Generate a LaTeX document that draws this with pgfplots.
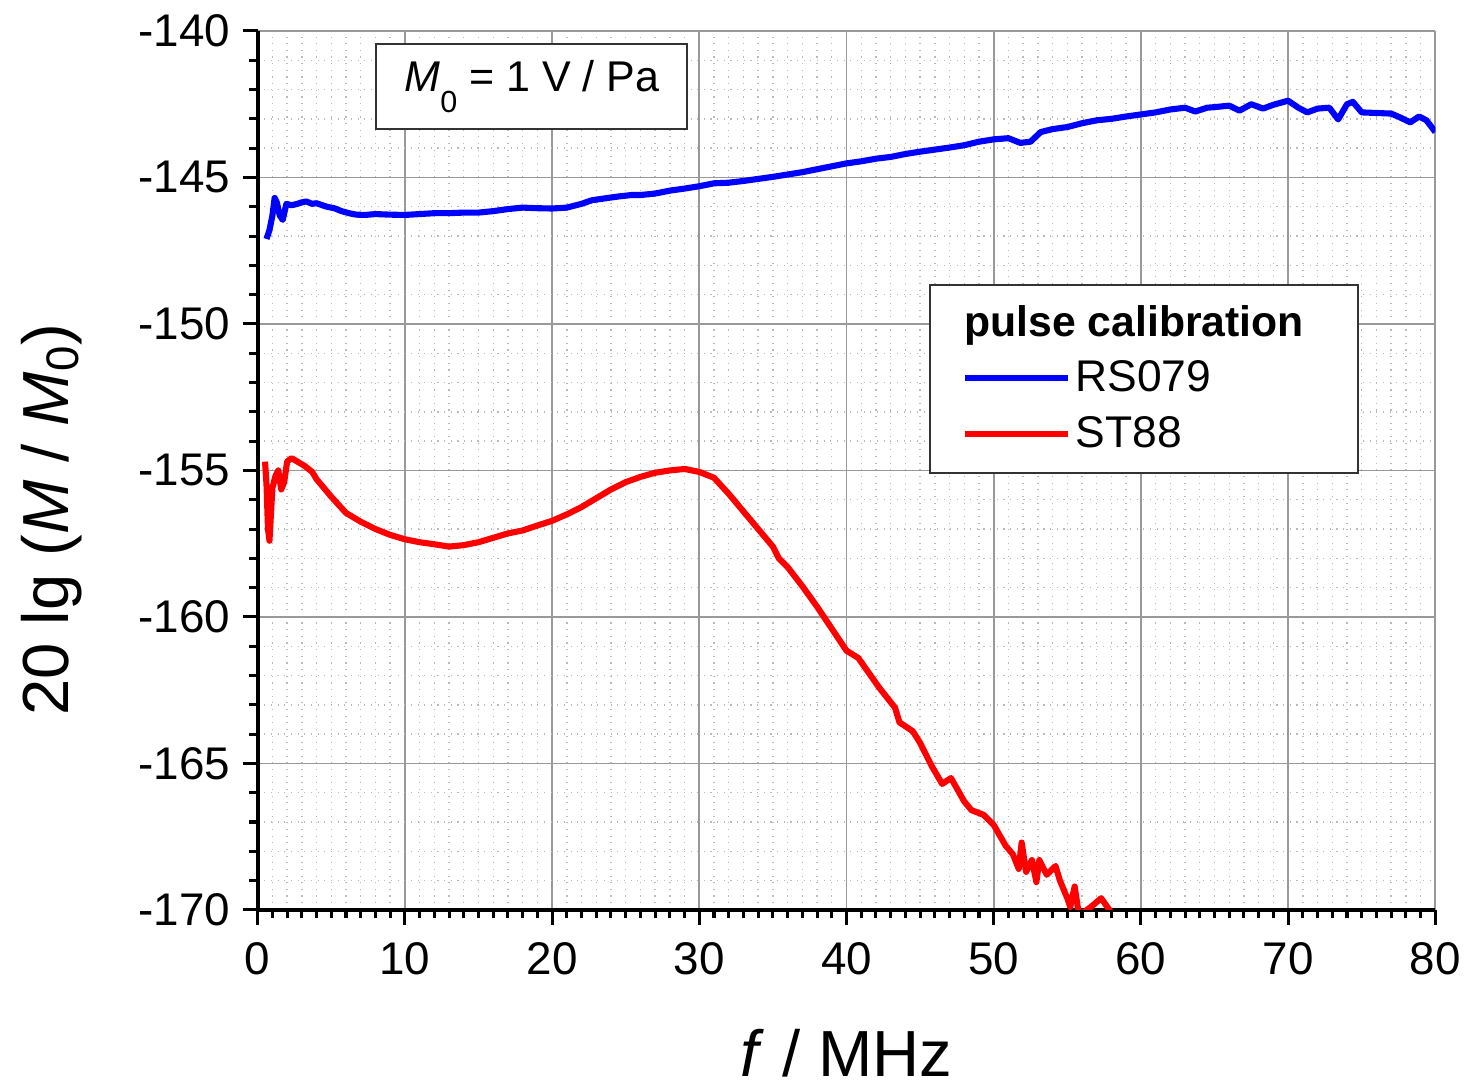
\documentclass[border=0pt]{standalone}
\usepackage{fontspec}
\setmainfont{Liberation Sans}
\usepackage{pgfplots}
\pgfplotsset{compat=1.18}
\usepackage{pgfplotstable}

\pgfplotstableread{
x y
0.6 -147.1
0.8 -146.8
1.0 -146.3
1.15 -145.7
1.3 -145.85
1.5 -146.3
1.7 -146.45
1.95 -145.9
2.3 -145.95
2.7 -145.9
3.0 -145.85
3.3 -145.82
3.7 -145.9
4.0 -145.88
4.4 -145.95
4.7 -146.0
5.2 -146.05
5.7 -146.15
6.2 -146.22
6.7 -146.27
7.3 -146.28
8.0 -146.25
9.0 -146.27
10.0 -146.28
11 -146.25
12 -146.22
13 -146.22
14 -146.2
15 -146.2
16 -146.15
17 -146.08
18 -146.03
19 -146.05
20 -146.06
21 -146.03
22 -145.9
22.7 -145.78
23.5 -145.72
24.5 -145.65
25.4 -145.6
26 -145.6
27 -145.55
28 -145.45
29 -145.38
30 -145.3
31 -145.2
32 -145.18
33 -145.12
34 -145.05
35 -144.98
36 -144.9
37 -144.82
38 -144.72
39 -144.62
40 -144.52
41 -144.45
42 -144.36
43 -144.3
44 -144.2
45 -144.12
46 -144.05
47 -143.98
48 -143.9
49 -143.78
50 -143.7
51 -143.66
51.8 -143.82
52.5 -143.78
53.2 -143.45
54 -143.35
55 -143.28
56 -143.15
57 -143.05
58 -143.0
59 -142.92
60 -142.85
61 -142.78
62 -142.68
63 -142.62
63.7 -142.75
64.5 -142.62
65 -142.6
66 -142.55
66.7 -142.72
67.5 -142.5
68.3 -142.65
69 -142.52
70 -142.38
70.7 -142.62
71.3 -142.78
72 -142.65
72.8 -142.62
73.4 -143.02
74 -142.5
74.4 -142.42
75 -142.78
76 -142.8
77 -142.82
77.6 -142.95
78.3 -143.12
78.9 -142.92
79.4 -143.05
80 -143.45
}\bluedata

\pgfplotstableread{
x y
0.5 -154.7
0.6 -155.5
0.7 -157.0
0.8 -157.4
0.9 -156.5
1.0 -155.6
1.2 -155.2
1.4 -155.0
1.6 -155.65
1.8 -155.4
2.0 -154.7
2.3 -154.58
2.7 -154.7
3.2 -154.85
3.7 -155.05
4.0 -155.3
5.0 -155.9
6.0 -156.45
7.0 -156.75
8.0 -157.0
9.0 -157.2
10.0 -157.35
11 -157.45
12 -157.52
13 -157.6
14 -157.55
15 -157.45
16 -157.3
17 -157.15
18 -157.05
19 -156.88
20 -156.72
21 -156.5
22 -156.25
23 -155.95
24 -155.65
25 -155.4
26 -155.22
27 -155.08
28 -155.0
29 -154.95
30 -155.05
31 -155.25
32 -155.8
33 -156.4
34 -157.0
35 -157.6
35.4 -158.0
36 -158.3
37 -158.95
38 -159.65
39 -160.4
40 -161.15
40.8 -161.4
41.5 -161.9
42.2 -162.4
43.3 -163.1
43.6 -163.6
44.5 -163.9
45 -164.3
45.8 -165.1
46.5 -165.7
47.1 -165.5
48 -166.3
48.5 -166.6
49.3 -166.75
50 -167.1
50.8 -167.8
51.3 -168.1
51.7 -168.6
51.9 -167.7
52.2 -168.7
52.6 -168.3
52.9 -169.05
53.1 -168.3
53.6 -168.8
54.2 -168.5
54.5 -169.0
55.0 -169.6
55.2 -169.9
55.5 -169.2
55.8 -170.2
56.6 -169.9
57.3 -169.6
58.0 -170.1
}\reddata

\begin{document}
\begin{tikzpicture}
\begin{axis}[
  scale only axis,
  width=424.44pt, height=316.8pt,
  xmin=0, xmax=80, ymin=-170, ymax=-140,
  xtick={0,10,...,80}, ytick={-170,-165,...,-140},
  minor x tick num=9, minor y tick num=4,
  axis x line*=bottom, axis y line*=left,
  axis line style={-, line width=1.4pt, black},
  tick align=outside,
  major tick length=5.4pt, minor tick length=3pt,
  every tick/.style={black, line width=1.1pt},
  grid=both,
  major grid style={solid, gray!80, line width=0.6pt},
  minor grid style={dotted, gray!55, line width=0.5pt},
  /pgf/number format/assume math mode=true,
  ticklabel style={font=\fontsize{16.5}{19}\selectfont},
  xticklabel style={yshift=-3pt},
  yticklabel style={xshift=-1pt},
  xlabel={\textit{f} / MHz},
  ylabel={20 lg (\textit{M} / \textit{M}\textsubscript{0})},
  label style={font=\fontsize{23.5}{28}\selectfont},
  xlabel style={at={(axis description cs:0.5,-0.19)}, anchor=base},
  ylabel style={at={(axis description cs:-0.161,0.444)}, anchor=base},
  legend style={at={(rel axis cs:0.5975,0.5733)}, anchor=west, draw=none, fill=none,
    font=\fontsize{16}{19}\selectfont, inner sep=0pt, row sep=4.5pt,
    nodes={inner sep=1.5pt}},
  legend cell align=left,
  legend image code/.code={\draw[#1, line width=2.5pt] (0pt,0pt) -- (37pt,0pt);},
]
\addplot[blue, line width=2.2pt, line join=round] table[x=x,y=y] {\bluedata};
\addlegendentry{RS079}
\addplot[red, line width=2.2pt, line join=round] table[x=x,y=y] {\reddata};
\addlegendentry{ST88}
\fill[white, draw=black!80, line width=0.7pt] (rel axis cs:0.5708,0.4966) rectangle (rel axis cs:0.9347,0.7114);
\node[anchor=west, font=\bfseries\fontsize{15.4}{18}\selectfont, inner sep=0pt] at (rel axis cs:0.5997,0.665) {pulse calibration};
\node[draw=black!80, fill=white, line width=0.7pt, minimum width=112pt, minimum height=30.6pt, font=\fontsize{15.5}{18}\selectfont] at (rel axis cs:0.2328,0.9369) {\textit{M}\raisebox{-0.9ex}{\fontsize{11}{11}\selectfont 0} = 1 V / Pa};
\end{axis}
\path ([xshift=-92.88pt,yshift=-62.28pt]current axis.south west) rectangle ([xshift=11.88pt,yshift=11.16pt]current axis.north east);
\end{tikzpicture}
\end{document}
